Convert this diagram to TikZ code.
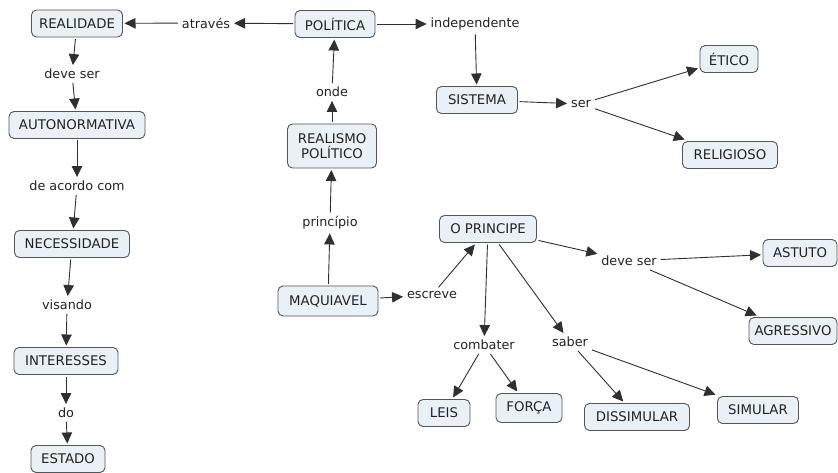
\documentclass[tikz,border=0pt]{standalone}
\usepackage{fontspec}
\setmainfont{DejaVu Sans}
\usetikzlibrary{arrows.meta}
\definecolor{fillcol}{HTML}{EAF1F6}
\definecolor{bordercol}{HTML}{555555}
\definecolor{linecol}{HTML}{303030}
\definecolor{textcol}{HTML}{222222}
\begin{document}
\begin{tikzpicture}[x=1pt,y=-1pt,
  concept/.style={draw=bordercol, fill=fillcol, rounded corners=5pt, line width=0.9pt,
    minimum height=27pt, inner xsep=4pt, inner ysep=3pt, text=textcol,
    font=\fontsize{13.3}{15.5}\selectfont, outer sep=2pt, align=center},
  phrase/.style={text=textcol, font=\fontsize{12.8}{15}\selectfont, inner sep=2pt, outer sep=2pt},
  link/.style={draw=linecol, line width=0.9pt, -{Triangle[length=11pt,width=10.5pt]}}]
\useasboundingbox (0,0) rectangle (838,473);
% concepts
\node[concept, minimum width=91pt] (real) at (77,23.5) {REALIDADE};
\node[concept, minimum width=80pt] (pol) at (335,24) {POLÍTICA};
\node[concept, minimum width=81pt] (sis) at (477,100) {SISTEMA};
\node[concept, minimum width=58pt] (etico) at (729,59) {ÉTICO};
\node[concept, minimum width=95pt] (relig) at (730,155) {RELIGIOSO};
\node[concept, minimum width=89pt, minimum height=44pt] (rp) at (332,146) {REALISMO\\POLÍTICO};
\node[concept, minimum width=136pt] (auto) at (77,125) {AUTONORMATIVA};
\node[concept, minimum width=115pt] (nec) at (72,244) {NECESSIDADE};
\node[concept, minimum width=104pt] (int) at (66,361) {INTERESSES};
\node[concept, minimum width=74pt] (est) at (68,459) {ESTADO};
\node[concept, minimum width=100pt, minimum height=30pt] (maq) at (328,301) {MAQUIAVEL};
\node[concept, minimum width=97pt] (op) at (488,229) {O PRINCIPE};
\node[concept, minimum width=74pt] (ast) at (800,253) {ASTUTO};
\node[concept, minimum width=88pt] (agr) at (793,331) {AGRESSIVO};
\node[concept, minimum width=52pt] (leis) at (444,413) {LEIS};
\node[concept, minimum width=66pt, minimum height=29pt] (forca) at (529,408) {FORÇA};
\node[concept, minimum width=105pt] (diss) at (637,417) {DISSIMULAR};
\node[concept, minimum width=81pt] (sim) at (758,410) {SIMULAR};
% linking phrases
\node[phrase] (atr) at (206,23) {através};
\node[phrase] (ind) at (475,24) {independente};
\node[phrase] (ser) at (581,104) {ser};
\node[phrase] (onde) at (332,92) {onde};
\node[phrase] (dev1) at (72,74) {deve ser};
\node[phrase] (dac) at (77,186) {de acordo com};
\node[phrase] (vis) at (67,305) {visando};
\node[phrase] (do) at (66,413) {do};
\node[phrase] (pri) at (330,223) {princípio};
\node[phrase] (esc) at (432,295) {escreve};
\node[phrase] (dev2) at (629,261) {deve ser};
\node[phrase] (comb) at (484,345) {combater};
\node[phrase] (sab) at (570,342) {saber};
% connectors
\draw[link] (pol) -- (atr);
\draw[link] (atr) -- (real);
\draw[link] (pol) -- (ind);
\draw[link] (ind) -- (sis);
\draw[link] (sis) -- (ser);
\draw[link] (ser) -- (etico);
\draw[link] (ser) -- (relig);
\draw[link] (rp) -- (onde);
\draw[link] (onde) -- (pol);
\draw[link] (maq) -- (pri);
\draw[link] (pri) -- (rp);
\draw[link] (real) -- (dev1);
\draw[link] (dev1) -- (auto);
\draw[link] (auto) -- (dac);
\draw[link] (dac) -- (nec);
\draw[link] (nec) -- (vis);
\draw[link] (vis) -- (int);
\draw[link] (int) -- (do);
\draw[link] (do) -- (est);
\draw[link] (maq) -- (esc);
\draw[link] (esc) -- (op);
\draw[link] (op) -- (dev2);
\draw[link] (dev2) -- (ast);
\draw[link] (dev2) -- (agr);
\draw[link] (op) -- (comb);
\draw[link] (comb) -- (leis);
\draw[link] (comb) -- (forca);
\draw[link] (op) -- (sab);
\draw[link] (sab) -- (diss);
\draw[link] (sab) -- (sim);
\end{tikzpicture}
\end{document}
